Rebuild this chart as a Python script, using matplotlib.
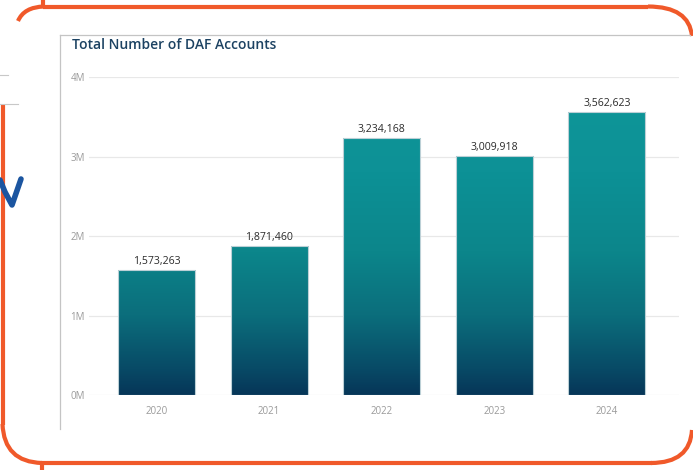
import numpy as np
import matplotlib
matplotlib.use("Agg")
import matplotlib.pyplot as plt
from matplotlib.colors import LinearSegmentedColormap
from matplotlib.lines import Line2D
from matplotlib.patches import PathPatch
from matplotlib.path import Path

# data
years = ["2020", "2021", "2022", "2023", "2024"]
accounts = [1573263, 1871460, 3234168, 3009918, 3562623]
y_ticks = [0, 1_000_000, 2_000_000, 3_000_000, 4_000_000]
y_tick_labels = ["0M", "1M", "2M", "3M", "4M"]
title = "Total Number of DAF Accounts"

W, H = 693, 470
ORANGE = "#f0592a"
FONT = "Open Sans"

fig = plt.figure(figsize=(W / 100, H / 100), dpi=100)


def px(x, y):
    # pixel coords (top-left origin) -> figure fraction
    return x / W, 1 - y / H


def fig_line(xs, ys, **kw):
    fx = [x / W for x in xs]
    fy = [1 - y / H for y in ys]
    fig.add_artist(Line2D(fx, fy, transform=fig.transFigure, **kw))


def fig_curve(pts, codes, **kw):
    verts = [px(x, y) for x, y in pts]
    patch = PathPatch(Path(verts, codes), transform=fig.transFigure,
                      facecolor="none", **kw)
    fig.add_artist(patch)


# decorative frame around the card
ow = 3.0
fig_line([43, 43], [0, 7], color=ORANGE, lw=ow, solid_capstyle="butt")
fig_line([43, 648], [6.5, 6.5], color=ORANGE, lw=ow, solid_capstyle="butt")
fig_curve([(648, 6.5), (689, 6.5), (692, 36)],
          [Path.MOVETO, Path.CURVE3, Path.CURVE3], edgecolor=ORANGE, lw=ow)
fig_curve([(18, 21), (24, 7), (44, 6.5)],
          [Path.MOVETO, Path.CURVE3, Path.CURVE3], edgecolor=ORANGE, lw=ow)
fig_line([2.5, 2.5], [104, 425], color=ORANGE, lw=ow, solid_capstyle="butt")
fig_curve([(2.5, 424), (4, 462), (42, 463)],
          [Path.MOVETO, Path.CURVE3, Path.CURVE3], edgecolor=ORANGE, lw=ow)
fig_line([41, 652], [463, 463], color=ORANGE, lw=ow, solid_capstyle="butt")
fig_line([42, 42], [463, 470], color=ORANGE, lw=ow, solid_capstyle="butt")
fig_curve([(651, 463), (690, 463), (692, 430)],
          [Path.MOVETO, Path.CURVE3, Path.CURVE3], edgecolor=ORANGE, lw=ow)

# stray grey rules and blue check mark on the left
fig_line([0, 8], [75, 75], color="#c8c8c8", lw=0.8)
fig_line([0, 18], [104, 104], color="#c8c8c8", lw=0.8)
fig_line([0, 5, 12, 21], [180, 192, 205, 179], color="#1b55a0", lw=4.0,
         solid_capstyle="round", solid_joinstyle="round")

# card border (left + top)
fig_line([60, 60], [35, 429], color="#c4c4c4", lw=0.9)
fig_line([60, 690], [35, 35], color="#c4c4c4", lw=0.9)

fig.text(72 / W, 1 - 45 / H, title, fontsize=10, fontweight="semibold",
         color="#1c4262", family=FONT, va="center", ha="left")

# axes
l, r = 89, 679
t, b = 77, 395
ax = fig.add_axes([l / W, 1 - b / H, (r - l) / W, (b - t) / H])
ymax = 4_000_000
ax.set_ylim(0, ymax)
ax.set_xlim(-0.6, 4.64)

x = np.arange(len(years))
bars = ax.bar(x, accounts, width=0.684, facecolor="none",
              edgecolor="#bcd0d6", linewidth=0.8, zorder=3)

cmap = LinearSegmentedColormap.from_list(
    "daf",
    [(0.0, "#063658"), (0.08, "#084a66"), (0.25, "#0b6e7c"),
     (0.45, "#0c868b"), (0.7, "#0d9196"), (1.0, "#0e9799")])
grad = np.linspace(0, 1, 256).reshape(-1, 1)
for bar in bars:
    im = ax.imshow(grad, cmap=cmap, origin="lower", aspect="auto",
                   extent=[-0.6, 4.64, 0, ymax], zorder=2)
    im.set_clip_path(bar)
ax.set_xlim(-0.6, 4.64)
ax.set_ylim(0, ymax)

for xi, v in zip(x, accounts):
    ax.annotate(f"{v:,}", (xi, v), xytext=(0, 2), textcoords="offset points",
                ha="center", va="bottom", fontsize=7.6, color="#2b2b2b",
                family=FONT)

ax.set_yticks(y_ticks)
ax.set_yticklabels(y_tick_labels)
ax.set_xticks(x)
ax.set_xticklabels(years)
ax.grid(axis="y", color="#e8e8e8", lw=0.9, zorder=0)
ax.set_axisbelow(True)
for s in ax.spines.values():
    s.set_visible(False)
ax.tick_params(axis="both", length=0, labelsize=7, labelcolor="#9a9a9a")
ax.tick_params(axis="y", pad=3)
ax.tick_params(axis="x", pad=8)
for lab in ax.get_xticklabels() + ax.get_yticklabels():
    lab.set_family(FONT)

fig.savefig("out.png", dpi=100)
